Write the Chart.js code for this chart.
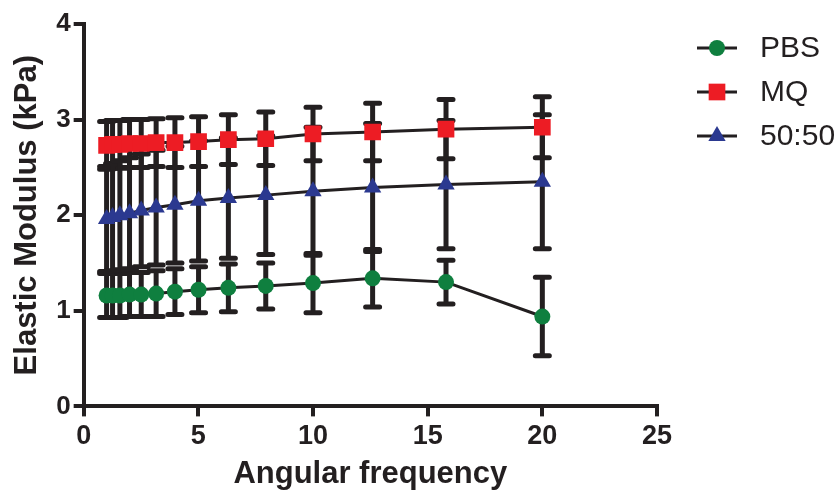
<!DOCTYPE html>
<html>
<head>
<meta charset="utf-8">
<script src="https://cdn.jsdelivr.net/npm/chart.js@4.4.1/dist/chart.umd.min.js"></script>
<style>
  html, body { margin: 0; padding: 0; background: #ffffff; }
  #wrap { width: 840px; height: 493px; }
</style>
</head>
<body>
<div id="wrap"><canvas id="grafica" width="840" height="493"></canvas></div>
<script>
// datos
const frecuencia = [1, 1.26, 1.58, 2, 2.51, 3.16, 3.98, 5.01, 6.31, 7.94, 10, 12.6, 15.8, 20];

const pbsMedia = [1.16, 1.16, 1.16, 1.17, 1.17, 1.18, 1.20, 1.22, 1.24, 1.26, 1.29, 1.34, 1.30, 0.94];
const pbsDE    = [0.23, 0.23, 0.23, 0.23, 0.23, 0.24, 0.24, 0.24, 0.25, 0.24, 0.31, 0.30, 0.23, 0.41];

const mqMedia = [2.73, 2.74, 2.74, 2.75, 2.75, 2.76, 2.76, 2.77, 2.79, 2.80, 2.85, 2.87, 2.90, 2.92];
const mqDE    = [0.25, 0.25, 0.25, 0.25, 0.25, 0.25, 0.26, 0.26, 0.26, 0.28, 0.28, 0.30, 0.31, 0.32];

const mezclaMedia = [1.96, 1.98, 2.00, 2.02, 2.05, 2.08, 2.11, 2.15, 2.18, 2.21, 2.25, 2.29, 2.32, 2.35];
const mezclaDE    = [0.55, 0.56, 0.57, 0.58, 0.59, 0.60, 0.61, 0.63, 0.63, 0.62, 0.67, 0.67, 0.67, 0.70];

const ticksX = [0, 5, 10, 15, 20, 25];
const ticksY = [0, 1, 2, 3, 4];

const NEGRO = "#231f20";
const fuente = "Arial, 'Liberation Sans', sans-serif";

function serie(etiqueta, medias, errores, color, estilo, radio) {
    return {
        label: etiqueta,
        data: frecuencia.map((f, i) => ({ x: f, y: medias[i] })),
        errores: errores,
        borderColor: NEGRO,
        borderWidth: 3,
        backgroundColor: color,
        pointBackgroundColor: color,
        pointBorderWidth: 0,
        pointStyle: estilo,
        pointRadius: radio,
        pointHoverRadius: radio,
        tension: 0,
        fill: false
    };
}

// barras de error (media +/- DE) dibujadas con las escalas del grafico
const barrasError = {
    id: "barrasError",
    beforeDatasetsDraw(chart) {
        const { ctx, scales: { x, y } } = chart;
        ctx.save();
        ctx.strokeStyle = NEGRO;
        ctx.lineWidth = 5;
        ctx.lineCap = "round";
        chart.data.datasets.forEach(ds => {
            ds.data.forEach((p, i) => {
                const de = ds.errores[i];
                const px = x.getPixelForValue(p.x);
                const arriba = y.getPixelForValue(p.y + de);
                const abajo = y.getPixelForValue(p.y - de);
                ctx.beginPath();
                ctx.moveTo(px, arriba);
                ctx.lineTo(px, abajo);
                ctx.moveTo(px - 7, arriba);
                ctx.lineTo(px + 7, arriba);
                ctx.moveTo(px - 7, abajo);
                ctx.lineTo(px + 7, abajo);
                ctx.stroke();
            });
        });
        ctx.restore();
    }
};

// leyenda con linea + marcador
const leyenda = {
    id: "leyenda",
    afterDraw(chart) {
        const { ctx, chartArea } = chart;
        const x0 = chartArea.right + 40;
        ctx.save();
        chart.data.datasets.forEach((ds, i) => {
            const yy = chartArea.top + 24 + i * 44;
            ctx.strokeStyle = NEGRO;
            ctx.lineWidth = 3;
            ctx.beginPath();
            ctx.moveTo(x0, yy);
            ctx.lineTo(x0 + 40, yy);
            ctx.stroke();
            ctx.fillStyle = ds.pointBackgroundColor;
            Chart.helpers.drawPoint(ctx, {
                pointStyle: ds.pointStyle,
                radius: ds.pointRadius,
                rotation: 0,
                borderWidth: 0
            }, x0 + 20, yy);
            ctx.fillStyle = NEGRO;
            ctx.font = "30px " + fuente;
            ctx.textBaseline = "middle";
            ctx.textAlign = "left";
            ctx.fillText(ds.label, x0 + 63, yy + 1);
        });
        ctx.restore();
    }
};

new Chart(document.getElementById("grafica"), {
    type: "line",
    data: {
        datasets: [
            serie("PBS", pbsMedia, pbsDE, "#0f7f3f", "circle", 8),
            serie("MQ", mqMedia, mqDE, "#ed1c24", "rect", 11.8),
            serie("50:50", mezclaMedia, mezclaDE, "#2b3990", "triangle", 10)
        ]
    },
    options: {
        responsive: false,
        animation: false,
        events: [],
        layout: { padding: { left: 6, right: 183, top: 24, bottom: 0 } },
        plugins: {
            legend: { display: false },
            tooltip: { enabled: false }
        },
        scales: {
            x: {
                type: "linear",
                min: 0,
                max: 25,
                afterBuildTicks: escala => { escala.ticks = ticksX.map(v => ({ value: v })); },
                border: { display: true, color: NEGRO, width: 4 },
                grid: { drawOnChartArea: false, drawTicks: true, tickLength: 10, color: NEGRO, lineWidth: 4 },
                ticks: { color: NEGRO, padding: 3.5, font: { family: fuente, size: 27, weight: "bold" } },
                title: {
                    display: true,
                    text: "Angular frequency",
                    color: NEGRO,
                    padding: { top: 0, bottom: 0 },
                    font: { family: fuente, size: 31, weight: "bold" }
                }
            },
            y: {
                type: "linear",
                min: 0,
                max: 4,
                afterBuildTicks: escala => { escala.ticks = ticksY.map(v => ({ value: v })); },
                border: { display: true, color: NEGRO, width: 4 },
                grid: { drawOnChartArea: false, drawTicks: true, tickLength: 10, color: NEGRO, lineWidth: 4 },
                ticks: { color: NEGRO, padding: 3, font: { family: fuente, size: 26, weight: "bold" } },
                title: {
                    display: true,
                    text: "Elastic Modulus (kPa)",
                    color: NEGRO,
                    padding: { top: 3, bottom: 7 },
                    font: { family: fuente, size: 31, weight: "bold" }
                }
            }
        }
    },
    plugins: [barrasError, leyenda]
});
</script>
</body>
</html>
